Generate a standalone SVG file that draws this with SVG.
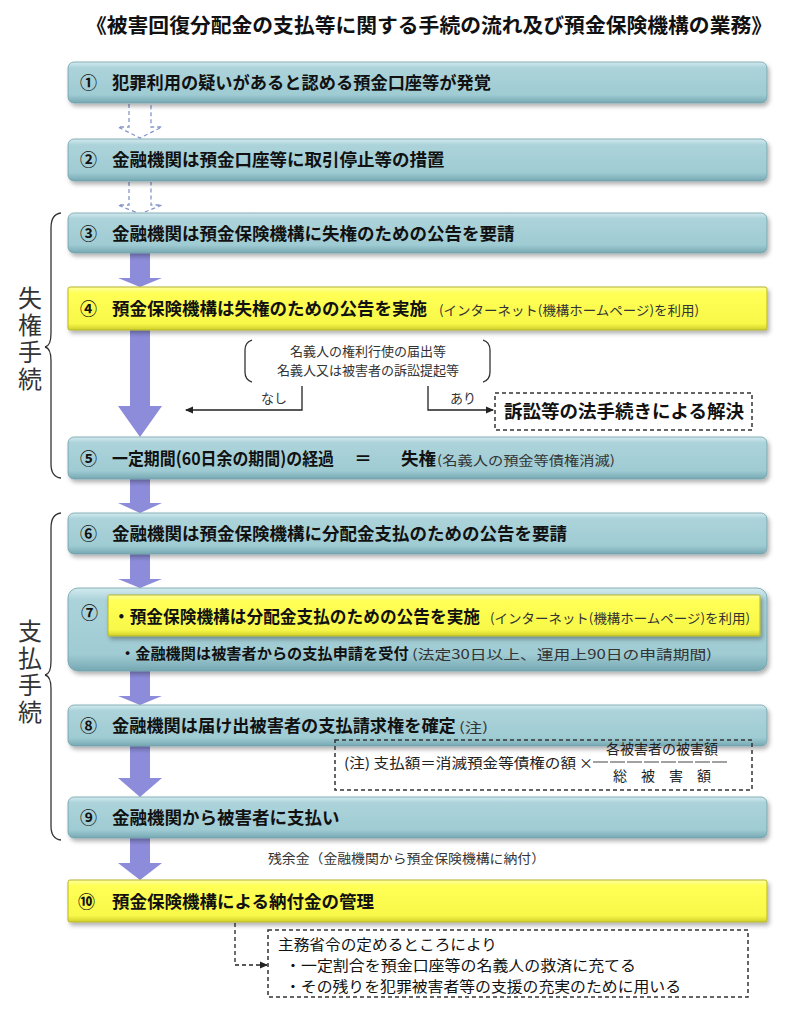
<svg xmlns="http://www.w3.org/2000/svg" width="800" height="1010" viewBox="0 0 800 1010">
<defs>
<style>
.jp{font-family:'Noto Sans CJK JP','Noto Sans CJK SC',sans-serif;}
.t{font-size:17.5px;font-weight:bold;fill:#111;}
.num{font-size:17px;font-weight:bold;fill:#111;}
.s{font-size:13px;font-weight:normal;fill:#333;}
.n{font-size:14px;fill:#222;}
.u{font-size:14.5px;fill:#111;}
.side{font-size:24px;fill:#333;writing-mode:vertical-rl;letter-spacing:3px;}
.teal{fill:url(#gTeal);stroke:#6f9fa9;stroke-width:0.8;filter:url(#sh);}
.yel{fill:url(#gYel);stroke:#b5b52a;stroke-width:1;filter:url(#sh);}
.arr{fill:#8c8cda;}
.darr{fill:none;stroke:#8597cc;stroke-width:1.3;stroke-dasharray:4 3;}
.dbox{fill:none;stroke:#333;stroke-width:1.5;stroke-dasharray:4 3;}
.line{fill:none;stroke:#222;stroke-width:1.3;}
.brace{fill:none;stroke:#333;stroke-width:1.3;}
</style>
<linearGradient id="gTeal" x1="0" y1="0" x2="0" y2="1">
<stop offset="0" stop-color="#d3ebef"/>
<stop offset="0.14" stop-color="#acd3da"/>
<stop offset="0.8" stop-color="#9fcbd3"/>
<stop offset="1" stop-color="#76a8b2"/>
</linearGradient>
<linearGradient id="gYel" x1="0" y1="0" x2="0" y2="1">
<stop offset="0" stop-color="#ffffa0"/>
<stop offset="0.14" stop-color="#ffff55"/>
<stop offset="0.85" stop-color="#f8f84a"/>
<stop offset="1" stop-color="#cfcf2a"/>
</linearGradient>
<filter id="sh" x="-5%" y="-20%" width="110%" height="150%">
<feDropShadow dx="2" dy="3" stdDeviation="2" flood-color="#000" flood-opacity="0.3"/>
</filter>
<marker id="ah" markerWidth="8" markerHeight="8" refX="7" refY="4" orient="auto" markerUnits="userSpaceOnUse">
<path d="M0,0.5 L8,4 L0,7.5 Z" fill="#222"/>
</marker>
</defs>
<rect width="800" height="1010" fill="#fff"/>

<text class="jp" x="86" y="33" font-size="20" font-weight="bold" fill="#111" textLength="686" lengthAdjust="spacingAndGlyphs">《被害回復分配金の支払等に関する手続の流れ及び預金保険機構の業務》</text>

<g id="connectors">
<path class="darr" d="M129,104 L129,127 L118,127 L140,138 L162,127 L151,127 L151,104"/>
<path class="darr" d="M129,182 L129,205 L118,205 L140,214 L162,205 L151,205 L151,182"/>
<polygon class="arr" points="130,253 150,253 150,278 162,278 140,287 118,278 130,278"/>
<polygon class="arr" points="130,330 150,330 150,406 162,406 140,437 118,406 130,406"/>
<polygon class="arr" points="130,479 150,479 150,503 162,503 140,513 118,503 130,503"/>
<polygon class="arr" points="130,554 150,554 150,579 162,579 140,588 118,579 130,579"/>
<polygon class="arr" points="130,671 150,671 150,696 162,696 140,705 118,696 130,696"/>
<polygon class="arr" points="130,746 150,746 150,778 162,778 140,797 118,778 130,778"/>
<polygon class="arr" points="130,838 150,838 150,863 162,863 140,880 118,863 130,863"/>
<path class="line" d="M302,386 L302,410 L186,410" marker-end="url(#ah)"/>
<path class="line" d="M428,386 L428,410 L493,410" marker-end="url(#ah)"/>
<path class="line" d="M235,923 L235,965 L267,965" stroke-dasharray="4 3" marker-end="url(#ah)"/>
</g>

<g id="brace1">
<path class="brace" d="M61,213 Q51,214 51,228 L51,333 Q51,346 45,347 Q51,348 51,361 L51,464 Q51,477 61,478"/>
<text class="jp side" x="30" y="286">失権手続</text>
</g>
<g id="brace2">
<path class="brace" d="M61,513 Q51,514 51,528 L51,661 Q51,674 45,675 Q51,676 51,689 L51,826 Q51,839 61,840"/>
<text class="jp side" x="30" y="619">支払手続</text>
</g>

<g id="n1">
<rect class="teal" x="68" y="62" width="699" height="41" rx="6"/>
<text class="jp num" x="80" y="89">①</text>
<text class="jp t" x="112" y="89" textLength="379" lengthAdjust="spacingAndGlyphs">犯罪利用の疑いがあると認める預金口座等が発覚</text>
</g>
<g id="n2">
<rect class="teal" x="68" y="139" width="699" height="42" rx="6"/>
<text class="jp num" x="80" y="166">②</text>
<text class="jp t" x="112" y="166">金融機関は預金口座等に取引停止等の措置</text>
</g>
<g id="n3">
<rect class="teal" x="68" y="213" width="699" height="40" rx="6"/>
<text class="jp num" x="80" y="240">③</text>
<text class="jp t" x="112" y="240">金融機関は預金保険機構に失権のための公告を要請</text>
</g>
<g id="n4">
<rect class="yel" x="68" y="287" width="699" height="43" rx="2"/>
<text class="jp num" x="80" y="315">④</text>
<text class="jp t" x="112" y="315">預金保険機構は失権のための公告を実施</text>
<text class="jp s" x="439" y="315" textLength="260" lengthAdjust="spacingAndGlyphs">(インターネット(機構ホームページ)を利用)</text>
</g>
<g id="cond">
<path class="brace" d="M252,340 Q245,342 245,350 L245,372 Q245,380 252,382"/>
<path class="brace" d="M483,340 Q490,342 490,350 L490,372 Q490,380 483,382"/>
<text class="jp s" x="368" y="356" text-anchor="middle"><tspan x="368" y="356">名義人の権利行使の届出等</tspan><tspan x="368" y="375">名義人又は被害者の訴訟提起等</tspan></text>
<text class="jp s" x="274" y="403" text-anchor="middle">なし</text>
<text class="jp s" x="463" y="403" text-anchor="middle">あり</text>
</g>
<g id="lawsuit">
<rect class="dbox" x="495" y="393" width="257" height="37"/>
<text class="jp" x="624" y="418" font-size="18" font-weight="bold" fill="#111" text-anchor="middle" textLength="240" lengthAdjust="spacingAndGlyphs">訴訟等の法手続きによる解決</text>
</g>
<g id="n5">
<rect class="teal" x="68" y="437" width="699" height="42" rx="6"/>
<text class="jp num" x="80" y="465">⑤</text>
<text class="jp t" x="112" y="465" textLength="222" lengthAdjust="spacingAndGlyphs">一定期間(60日余の期間)の経過</text>
<text class="jp t" x="363" y="465" text-anchor="middle">＝</text>
<text class="jp t" x="401" y="465">失権</text>
<text class="jp s" x="437" y="465" textLength="178" lengthAdjust="spacingAndGlyphs">(名義人の預金等債権消滅)</text>
</g>
<g id="n6">
<rect class="teal" x="68" y="513" width="699" height="41" rx="6"/>
<text class="jp num" x="80" y="540">⑥</text>
<text class="jp t" x="112" y="540">金融機関は預金保険機構に分配金支払のための公告を要請</text>
</g>
<g id="n7">
<rect class="teal" x="68" y="588" width="699" height="83" rx="10"/>
<rect class="yel" x="108" y="595" width="652" height="41" rx="1"/>
<text class="jp num" x="81" y="619">⑦</text>
<text class="jp t" x="113" y="623" textLength="367" lengthAdjust="spacingAndGlyphs">・預金保険機構は分配金支払のための公告を実施</text>
<text class="jp s" x="490" y="623" textLength="260" lengthAdjust="spacingAndGlyphs">(インターネット(機構ホームページ)を利用)</text>
<text class="jp t" x="120" y="659" style="font-size:15.2px">・金融機関は被害者からの支払申請を受付</text>
<text class="jp s" x="412" y="659" textLength="300" lengthAdjust="spacingAndGlyphs">(法定30日以上、運用上90日の申請期間)</text>
</g>
<g id="n8">
<rect class="teal" x="68" y="705" width="699" height="41" rx="6"/>
<text class="jp num" x="80" y="732">⑧</text>
<text class="jp t" x="112" y="732" style="font-size:17.2px">金融機関は届け出被害者の支払請求権を確定</text>
<text class="jp s" x="459" y="732" textLength="29" lengthAdjust="spacingAndGlyphs">(注)</text>
</g>
<g id="note">
<rect class="dbox" x="335" y="740" width="417" height="50"/>
<text class="jp n" x="344" y="768" textLength="232" lengthAdjust="spacingAndGlyphs">(注) 支払額＝消滅預金等債権の額</text>
<text class="jp n" x="586" y="768" text-anchor="middle">×</text>
<text class="jp n" x="662" y="754" text-anchor="middle">各被害者の被害額</text>
<line x1="593" y1="762" x2="728" y2="762" stroke="#444" stroke-width="1" stroke-dasharray="15 2"/>
<text class="jp n" x="662" y="781" text-anchor="middle">総　被　害　額</text>
</g>
<g id="n9">
<rect class="teal" x="68" y="797" width="699" height="41" rx="6"/>
<text class="jp num" x="80" y="824">⑨</text>
<text class="jp t" x="112" y="824">金融機関から被害者に支払い</text>
</g>
<text class="jp s" x="268" y="863" textLength="277" lengthAdjust="spacingAndGlyphs">残余金（金融機関から預金保険機構に納付）</text>
<g id="n10">
<rect class="yel" x="68" y="880" width="699" height="42" rx="2"/>
<text class="jp num" x="78" y="908">⑩</text>
<text class="jp t" x="112" y="908">預金保険機構による納付金の管理</text>
</g>
<g id="usage">
<rect class="dbox" x="268" y="930" width="480" height="67"/>
<text class="jp u" x="278" y="950" textLength="219" lengthAdjust="spacingAndGlyphs">主務省令の定めるところにより</text>
<text class="jp u" x="285" y="971" textLength="351" lengthAdjust="spacingAndGlyphs">・一定割合を預金口座等の名義人の救済に充てる</text>
<text class="jp u" x="285" y="992" textLength="396" lengthAdjust="spacingAndGlyphs">・その残りを犯罪被害者等の支援の充実のために用いる</text>
</g>
</svg>
